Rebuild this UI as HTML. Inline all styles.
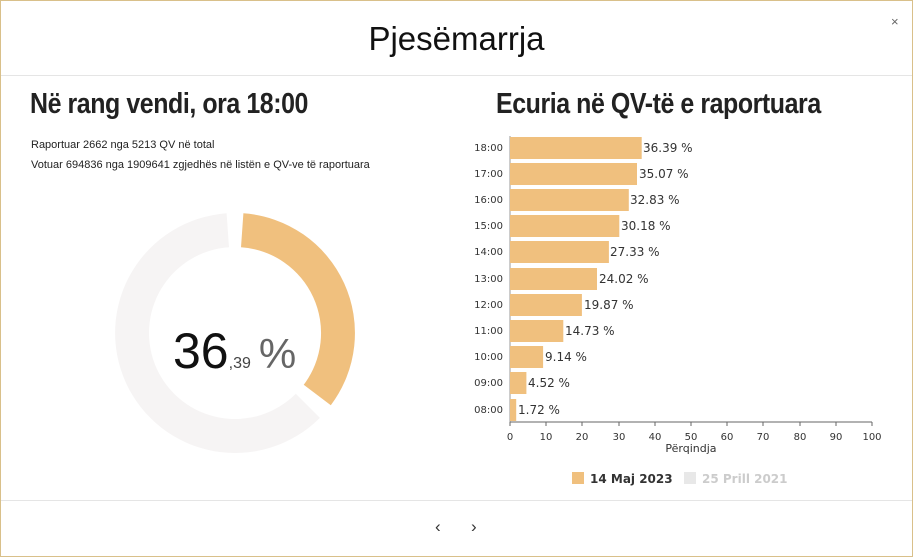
<!DOCTYPE html>
<html><head><meta charset="utf-8"><style>
body{margin:0;width:913px;height:557px;background:#fff;font-family:"Liberation Sans",sans-serif;overflow:hidden;position:relative}
.frame{position:absolute;left:0;top:0;width:911px;height:555px;border:1px solid #d9c08a}
.t{position:absolute;white-space:nowrap}
</style></head><body>
<div class="frame"></div>
<div class="t" style="left:0;width:913px;text-align:center;top:20px;font-size:33px;color:#111">Pjesëmarrja</div>
<div class="t" style="left:891px;top:14px;font-size:13px;color:#666">×</div>
<div style="position:absolute;left:1px;right:1px;top:75px;height:1px;background:#e5e5e5"></div>
<div style="position:absolute;left:1px;right:1px;top:500px;height:1px;background:#e5e5e5"></div>
<div class="t" style="left:30px;top:88px;font-size:29px;font-weight:bold;color:#222;transform:scaleX(0.86);transform-origin:left;letter-spacing:-0.5px">Në rang vendi, ora 18:00</div>
<div class="t" style="left:31px;top:139px;font-size:11px;color:#222">Raportuar 2662 nga 5213 QV në total</div>
<div class="t" style="left:31px;top:159px;font-size:11px;color:#222">Votuar 694836 nga 1909641 zgjedhës në listën e QV-ve të raportuara</div>
<div class="t" style="left:496px;top:88px;font-size:29px;font-weight:bold;color:#222;transform:scaleX(0.86);transform-origin:left;letter-spacing:-0.5px">Ecuria në QV-të e raportuara</div>
<svg width="913" height="557" style="position:absolute;left:0;top:0">
<path d="M 319.9 417.9 A 120 120 0 1 1 226.6 213.3 L 229.0 247.2 A 86 86 0 1 0 295.8 393.8 Z" fill="#f6f4f4"/>
<path d="M 243.4 213.3 A 120 120 0 0 1 330.8 405.2 L 303.7 384.8 A 86 86 0 0 0 241.0 247.2 Z" fill="#f0c07e"/>
<text x="173" y="368" font-family="Liberation Sans,sans-serif" font-size="50" fill="#111">36<tspan font-size="16" fill="#444">,39</tspan><tspan font-size="42" dx="8" fill="#666">%</tspan></text>
<g font-family="DejaVu Sans,sans-serif">
<line x1="510" y1="136" x2="510" y2="422" stroke="#999"/>
<line x1="510" y1="422" x2="872" y2="422" stroke="#666"/>
<g font-size="10" fill="#333" text-anchor="middle">
<text x="510" y="440">0</text><text x="546" y="440">10</text><text x="582" y="440">20</text><text x="619" y="440">30</text><text x="655" y="440">40</text><text x="691" y="440">50</text><text x="727" y="440">60</text><text x="763" y="440">70</text><text x="800" y="440">80</text><text x="836" y="440">90</text><text x="872" y="440">100</text>
<text x="691" y="452" font-size="11">Përqindja</text>
</g>
<g stroke="#666">
<line x1="510" y1="422" x2="510" y2="426"/><line x1="546" y1="422" x2="546" y2="426"/><line x1="582" y1="422" x2="582" y2="426"/><line x1="619" y1="422" x2="619" y2="426"/><line x1="655" y1="422" x2="655" y2="426"/><line x1="691" y1="422" x2="691" y2="426"/><line x1="727" y1="422" x2="727" y2="426"/><line x1="763" y1="422" x2="763" y2="426"/><line x1="800" y1="422" x2="800" y2="426"/><line x1="836" y1="422" x2="836" y2="426"/><line x1="872" y1="422" x2="872" y2="426"/>
</g>
<g font-size="10" fill="#333" text-anchor="end">
<text x="503" y="151">18:00</text><text x="503" y="177">17:00</text><text x="503" y="203">16:00</text><text x="503" y="229">15:00</text><text x="503" y="255">14:00</text><text x="503" y="282">13:00</text><text x="503" y="308">12:00</text><text x="503" y="334">11:00</text><text x="503" y="360">10:00</text><text x="503" y="386">09:00</text><text x="503" y="413">08:00</text>
</g>
<g fill="#f0c07e">
<rect x="510" y="137" width="131.7" height="22"/><rect x="510" y="163" width="127" height="22"/><rect x="510" y="189" width="118.8" height="22"/><rect x="510" y="215" width="109.3" height="22"/><rect x="510" y="241" width="98.9" height="22"/><rect x="510" y="268" width="87" height="22"/><rect x="510" y="294" width="71.9" height="22"/><rect x="510" y="320" width="53.3" height="22"/><rect x="510" y="346" width="33.1" height="22"/><rect x="510" y="372" width="16.4" height="22"/><rect x="510" y="399" width="6.2" height="22"/>
</g>
<g font-size="12" fill="#333">
<text x="643" y="152">36.39 %</text><text x="639" y="178">35.07 %</text><text x="630" y="204">32.83 %</text><text x="621" y="230">30.18 %</text><text x="610" y="256">27.33 %</text><text x="599" y="283">24.02 %</text><text x="584" y="309">19.87 %</text><text x="565" y="335">14.73 %</text><text x="545" y="361">9.14 %</text><text x="528" y="387">4.52 %</text><text x="518" y="414">1.72 %</text>
</g>
<rect x="572" y="472" width="12" height="12" fill="#f0c07e"/>
<text x="590" y="483" font-size="12" font-weight="bold" fill="#333">14 Maj 2023</text>
<rect x="684" y="472" width="12" height="12" fill="#e8e8e8"/>
<text x="702" y="483" font-size="12" font-weight="bold" fill="#ccc">25 Prill 2021</text>
</g>
</svg>
<div class="t" style="left:435px;top:517px;font-size:17px;color:#333">‹</div>
<div class="t" style="left:471px;top:517px;font-size:17px;color:#333">›</div>
</body></html>
